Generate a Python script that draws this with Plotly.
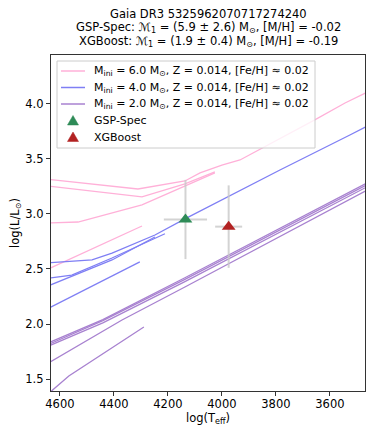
import plotly.graph_objects as go

# evolutionary tracks (Teff in K, log L/Lsun); each mass has several pieces
teff_6msun = [
    [4660, 4311, 4137, 4081, 4000, 3933, 3656, 3552, 3544, 3460],
    [4660, 4296, 4137, 4026],
    [4660, 4533, 4296, 4137, 4026],
    [4660, 4367, 4296],
]
logl_6msun = [
    [3.32, 3.227, 3.30, 3.373, 3.445, 3.491, 3.855, 3.991, 4.009, 4.11],
    [3.258, 3.155, 3.273, 3.382],
    [2.918, 2.927, 3.082, 3.255, 3.373],
    [2.48, 2.809, 2.891],
]

teff_4msun = [
    [4660, 4481, 4407, 4248, 4137, 3989, 3785, 3526, 3460],
    [4660, 4556, 4407, 4222, 4211],
    [4660, 4407, 4248],
    [4660, 4304],
]
logl_4msun = [
    [2.553, 2.582, 2.645, 2.809, 2.955, 3.145, 3.40, 3.718, 3.80],
    [2.41, 2.445, 2.60, 2.809, 2.82],
    [2.33, 2.582, 2.791],
    [2.12, 2.564],
]

teff_2msun = [
    [4660, 4533, 4441, 4137, 3460],
    [4660, 4533, 4441, 4137, 3460],
    [4660, 4533, 4441, 4137, 3460],
    [4660, 4370, 4137, 3460],
    [4660, 4567, 4289],
]
logl_2msun = [
    [1.81, 1.945, 2.04, 2.42, 3.285],
    [1.795, 1.935, 2.03, 2.405, 3.27],
    [1.78, 1.915, 2.01, 2.385, 3.25],
    [1.62, 2.036, 2.336, 3.22],
    [1.33, 1.527, 1.973],
]

track_names = [
    "M<sub>ini</sub> = 6.0 M<sub>⊙</sub>, Z = 0.014, [Fe/H] ≈ 0.02",
    "M<sub>ini</sub> = 4.0 M<sub>⊙</sub>, Z = 0.014, [Fe/H] ≈ 0.02",
    "M<sub>ini</sub> = 2.0 M<sub>⊙</sub>, Z = 0.014, [Fe/H] ≈ 0.02",
]
track_colors = ["#ffb0d8", "#7f7ff4", "#a882d0"]

# star estimates
gsp_teff, gsp_teff_err = [4135], [80]
gsp_logl, gsp_logl_err = [2.95], [0.36]
xgb_teff, xgb_teff_err = [3975], [50]
xgb_logl, xgb_logl_err = [2.885], [0.375]
star_names = ["GSP-Spec", "XGBoost"]
star_colors = ["#2e8b57", "#b22222"]

title_lines = [
    "Gaia DR3 5325962070717274240",
    "GSP-Spec: ℳ<sub>1</sub> = (5.9 ± 2.6) M<sub>⊙</sub>, [M/H] = -0.02",
    "XGBoost: ℳ<sub>1</sub> = (1.9 ± 0.4) M<sub>⊙</sub>, [M/H] = -0.19",
]

FONT = "DejaVu Sans"

# the page puts the figure 8px in from the corner (body margin), so the figure is
# made 8px smaller and all layout below is worked out in window pixels
PLOT_L, PLOT_R, PLOT_T, PLOT_B = 51, 365, 55, 391


def px(x):
    return (x - PLOT_L) / (PLOT_R - PLOT_L)


def py(y):
    return (PLOT_B - y) / (PLOT_B - PLOT_T)


def join_segments(xs, ys):
    # glue the pieces into one trace, broken with None
    out_x, out_y = [], []
    for sx, sy in zip(xs, ys):
        out_x += list(sx) + [None]
        out_y += list(sy) + [None]
    return out_x, out_y


fig = go.Figure()

for xs, ys, name, col in zip([teff_6msun, teff_4msun, teff_2msun],
                             [logl_6msun, logl_4msun, logl_2msun],
                             track_names, track_colors):
    x, y = join_segments(xs, ys)
    fig.add_trace(go.Scatter(x=x, y=y, mode="lines", name=name, showlegend=False,
                             line=dict(color=col, width=1.3), connectgaps=False))

errbar = "rgba(200,200,200,0.8)"
for name, col, tx, tex, ly, lye in zip(star_names, star_colors,
                                       [gsp_teff, xgb_teff], [gsp_teff_err, xgb_teff_err],
                                       [gsp_logl, xgb_logl], [gsp_logl_err, xgb_logl_err]):
    fig.add_trace(go.Scatter(
        x=tx, y=ly, mode="markers", name=name, showlegend=False,
        marker=dict(symbol="triangle-up", size=12, color=col),
        error_x=dict(type="data", array=tex, color=errbar, thickness=2, width=0),
        error_y=dict(type="data", array=lye, color=errbar, thickness=2, width=0),
    ))

# title, three lines
for txt, yy in zip(title_lines, [13.5, 27.5, 41.5]):
    fig.add_annotation(text=txt, x=0.5, y=py(yy), xref="paper", yref="paper",
                       xanchor="center", yanchor="middle", showarrow=False,
                       font=dict(size=11.5, color="black", family=FONT))

# hand-made legend (matplotlib-like spacing)
rows = [71, 87.5, 104, 120.5, 137]
fig.add_shape(type="rect", xref="paper", yref="paper", layer="above",
              x0=px(57), x1=px(315), y0=py(148), y1=py(61),
              fillcolor="rgba(255,255,255,0.8)", line=dict(color="#cccccc", width=1))
for r, col, name in zip(rows[:3], track_colors, track_names):
    fig.add_shape(type="line", xref="paper", yref="paper", layer="above",
                  x0=px(61), x1=px(85), y0=py(r), y1=py(r), line=dict(color=col, width=1.5))
    fig.add_annotation(text=name, x=px(92), y=py(r), xref="paper", yref="paper",
                       xanchor="left", yanchor="middle", showarrow=False,
                       font=dict(size=11, color="black", family=FONT))
for r, col, name in zip(rows[3:], star_colors, star_names):
    cx = 73
    path = "M {:.4f},{:.4f} L {:.4f},{:.4f} L {:.4f},{:.4f} Z".format(
        px(cx - 5.5), py(r + 4.5), px(cx + 5.5), py(r + 4.5), px(cx), py(r - 5))
    fig.add_shape(type="path", xref="paper", yref="paper", layer="above", path=path,
                  fillcolor=col, line=dict(color=col, width=0.5))
    fig.add_annotation(text=name, x=px(92), y=py(r), xref="paper", yref="paper",
                       xanchor="left", yanchor="middle", showarrow=False,
                       font=dict(size=11, color="black", family=FONT))

axis_style = dict(showline=True, linecolor="#333333", linewidth=1.2, mirror=True,
                  ticks="outside", ticklen=4, tickcolor="#333333", showgrid=False,
                  zeroline=False, automargin=False,
                  tickfont=dict(size=11.5, color="black", family=FONT))

fig.update_xaxes(range=[4633, 3470], tickvals=[4600, 4400, 4200, 4000, 3800, 3600],
                 ticklabelstandoff=-2,
                 title=dict(text="log(T<sub>eff</sub>)", font=dict(size=11.5, color="black"), standoff=2),
                 **axis_style)
fig.update_yaxes(range=[1.391, 4.445], tickvals=[1.5, 2.0, 2.5, 3.0, 3.5, 4.0],
                 tickformat=".1f",
                 title=dict(text="log(L/L<sub>⊙</sub>)", font=dict(size=11.5, color="black"), standoff=4),
                 **axis_style)

fig.update_layout(
    width=366, height=428,
    margin=dict(l=PLOT_L - 8, r=374 - PLOT_R, t=PLOT_T - 8, b=436 - PLOT_B),
    plot_bgcolor="white", paper_bgcolor="white",
    font=dict(family=FONT, size=11, color="black"),
    showlegend=False,
)

fig.write_html("out.html")
